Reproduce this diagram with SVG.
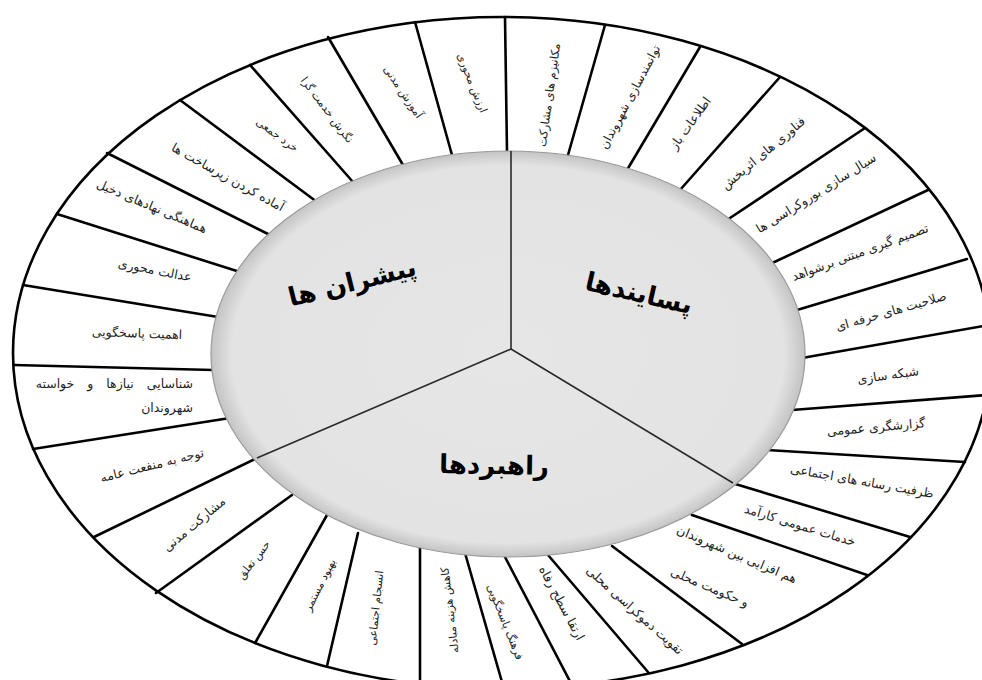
<svg xmlns="http://www.w3.org/2000/svg" width="982" height="680" viewBox="0 0 982 680">
<defs>
<radialGradient id="hub" cx="0.5" cy="0.5" r="0.5">
<stop offset="0" stop-color="#e6e6e6"/>
<stop offset="0.93" stop-color="#e3e3e3"/>
<stop offset="1" stop-color="#c4c4c4"/>
</radialGradient>
</defs>
<style>
.ring{fill:#fff;stroke:#000;stroke-width:2.6}
.sp{stroke:#000;stroke-width:2.6;stroke-linecap:round;fill:none}
.dv{stroke:#2a2a2a;stroke-width:1.6;fill:none}
.lb{font-family:"DejaVu Sans","Noto Sans",sans-serif;font-size:12.5px;fill:#1e1e1e;text-anchor:middle;dominant-baseline:central}
.sm{font-size:11px}
.hd{font-family:"DejaVu Sans","Noto Sans",sans-serif;font-size:26px;font-weight:bold;fill:#000;text-anchor:middle;dominant-baseline:central}
</style>
<rect width="982" height="680" fill="#fff"/>
<g id="outer-ring">
<ellipse class="ring" cx="502" cy="353" rx="489" ry="336"/>
</g>
<g id="connectors">
<line class="sp" x1="507" y1="152" x2="505" y2="17"/>
<line class="sp" x1="568" y1="155" x2="605" y2="25"/>
<line class="sp" x1="627" y1="170" x2="700" y2="47"/>
<line class="sp" x1="680" y1="190" x2="780" y2="77"/>
<line class="sp" x1="727" y1="220" x2="865" y2="128"/>
<line class="sp" x1="768" y1="265" x2="928" y2="190"/>
<line class="sp" x1="797" y1="310" x2="967" y2="259"/>
<line class="sp" x1="802" y1="358" x2="989" y2="325"/>
<line class="sp" x1="792" y1="410" x2="987" y2="395"/>
<line class="sp" x1="767" y1="450" x2="965" y2="462"/>
<line class="sp" x1="732" y1="483" x2="910" y2="537"/>
<line class="sp" x1="692" y1="515" x2="867" y2="575"/>
<line class="sp" x1="612" y1="546" x2="742" y2="644"/>
<line class="sp" x1="548" y1="555" x2="648" y2="672"/>
<line class="sp" x1="505" y1="557" x2="574" y2="689"/>
<line class="sp" x1="465" y1="553" x2="504" y2="689"/>
<line class="sp" x1="420" y1="547" x2="420" y2="684"/>
<line class="sp" x1="358" y1="533" x2="327" y2="666"/>
<line class="sp" x1="327" y1="515" x2="255" y2="643"/>
<line class="sp" x1="292" y1="495" x2="156" y2="593"/>
<line class="sp" x1="257" y1="458" x2="94" y2="537"/>
<line class="sp" x1="230" y1="418" x2="33" y2="449"/>
<line class="sp" x1="213" y1="370" x2="14" y2="365"/>
<line class="sp" x1="218" y1="317" x2="23" y2="285"/>
<line class="sp" x1="240" y1="272" x2="57" y2="214"/>
<line class="sp" x1="270" y1="235" x2="107" y2="153"/>
<line class="sp" x1="317" y1="202" x2="180" y2="100"/>
<line class="sp" x1="353" y1="182" x2="250" y2="65"/>
<line class="sp" x1="403" y1="165" x2="328" y2="37"/>
<line class="sp" x1="452" y1="155" x2="415" y2="22"/>
</g>
<g id="hub">
<ellipse cx="508" cy="354" rx="297" ry="203" fill="url(#hub)" stroke="#9a9a9a" stroke-width="1.2"/>
<line class="dv" x1="511" y1="349" x2="511" y2="151"/>
<line class="dv" x1="511" y1="349" x2="733" y2="483"/>
<line class="dv" x1="511" y1="349" x2="257" y2="458"/>
</g>
<g id="hub-drivers"><text class="hd" transform="translate(352,282) rotate(-14)">پیشران ها</text></g>
<g id="hub-outcomes"><text class="hd" transform="translate(639,293) rotate(13)">پسایندها</text></g>
<g id="hub-strategies"><text class="hd" transform="translate(494,465) rotate(1)">راهبردها</text></g>
<g id="n1"><text class="lb" style="font-size:11.5px" transform="translate(549,95) rotate(-82)">مکانیزم های مشارکت</text></g>
<g id="n2"><text class="lb" style="font-size:12px" transform="translate(630,97) rotate(-62)">توانمندسازی شهروندان</text></g>
<g id="n3"><text class="lb" transform="translate(690,123) rotate(-54)">اطلاعات باز</text></g>
<g id="n4"><text class="lb" transform="translate(763,153) rotate(-40)">فناوری های اثربخش</text></g>
<g id="n5"><text class="lb" transform="translate(816,193) rotate(-32)">سیال سازی بوروکراسی ها</text></g>
<g id="n6"><text class="lb" transform="translate(860,252) rotate(-20)">تصمیم گیری مبتنی برشواهد</text></g>
<g id="n7"><text class="lb" transform="translate(891,311) rotate(-16)">صلاحیت های حرفه ای</text></g>
<g id="n8"><text class="lb" transform="translate(888,375) rotate(-8)">شبکه سازی</text></g>
<g id="n9"><text class="lb" transform="translate(876,427) rotate(-5)">گزارشگری عمومی</text></g>
<g id="n10"><text class="lb" transform="translate(862,481) rotate(10)">ظرفیت رسانه های اجتماعی</text></g>
<g id="n11"><text class="lb" transform="translate(800,525) rotate(17)">خدمات عمومی کارآمد</text></g>
<g id="n12"><text class="lb" transform="translate(737,554) rotate(23)">هم افزایی بین شهروندان</text><text class="lb" transform="translate(710,587) rotate(23)">و حکومت محلی</text></g>
<g id="n13"><text class="lb" transform="translate(635,610) rotate(42)">تقویت دموکراسی محلی</text></g>
<g id="n14"><text class="lb" transform="translate(562,603) rotate(62)">ارتقا سطح رفاه</text></g>
<g id="n15"><text class="lb sm" transform="translate(505,622) rotate(68)">فرهنگ پاسخگویی</text></g>
<g id="n16"><text class="lb sm" transform="translate(450,610) rotate(-97)">کاهش هزینه مبادله</text></g>
<g id="n17"><text class="lb sm" transform="translate(376,608) rotate(-84)">انسجام اجتماعی</text></g>
<g id="n18"><text class="lb sm" transform="translate(320,585) rotate(-63)">بهبود مستمر</text></g>
<g id="n19"><text class="lb sm" transform="translate(254,560) rotate(-52)">حس تعلق</text></g>
<g id="n20"><text class="lb" transform="translate(194,524) rotate(-40)">مشارکت مدنی</text></g>
<g id="n21"><text class="lb" transform="translate(152,465) rotate(-14)">توجه به منفعت عامه</text></g>
<g id="n22"><text class="lb" x="193" y="383" style="text-anchor:end;word-spacing:9px">شناسایی نیازها و خواسته</text><text class="lb" x="193" y="407" style="text-anchor:end">شهروندان</text></g>
<g id="n23"><text class="lb" transform="translate(137,333) rotate(2)">اهمیت  پاسخگویی</text></g>
<g id="n24"><text class="lb" transform="translate(155,270) rotate(11)">عدالت محوری</text></g>
<g id="n25"><text class="lb" transform="translate(152,206) rotate(23)">هماهنگی نهادهای دخیل</text></g>
<g id="n26"><text class="lb" transform="translate(228,177) rotate(29)">آماده کردن زیرساخت ها</text></g>
<g id="n27"><text class="lb sm" transform="translate(277,135) rotate(36)">خرد جمعی</text></g>
<g id="n28"><text class="lb sm" transform="translate(327,110) rotate(53)">نگرش خدمت گرا</text></g>
<g id="n29"><text class="lb sm" transform="translate(403,92) rotate(56)">آموزش مدنی</text></g>
<g id="n30"><text class="lb sm" transform="translate(472,83) rotate(68)">ارزش محوری</text></g>
</svg>
